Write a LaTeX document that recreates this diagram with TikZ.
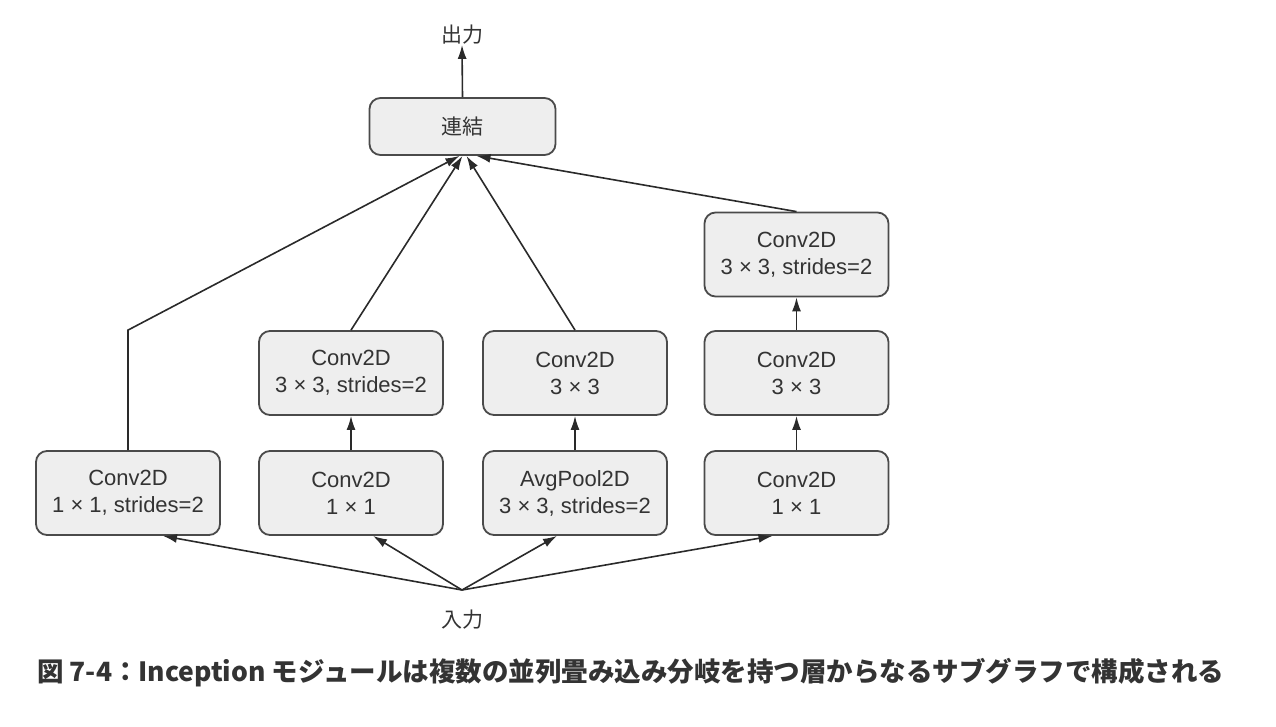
\documentclass[tikz,border=0pt]{standalone}
\usepackage{fontspec}
\setmainfont{Liberation Sans}
\newfontfamily\jp{Noto Sans CJK JP}
\usetikzlibrary{arrows.meta,calc}
\definecolor{boxfill}{HTML}{EEEEEE}
\definecolor{boxline}{HTML}{4A4A4A}
\definecolor{ink}{HTML}{333333}
\definecolor{wire}{HTML}{2A2A2A}
\tikzset{
  layer/.style={draw=boxline, line width=1.8pt, fill=boxfill, rounded corners=11pt,
    minimum width=184pt, minimum height=84pt, align=center, text=ink,
    font=\fontsize{22}{27}\selectfont, inner sep=0pt},
  conn/.style={draw=wire, line width=1.6pt, -{Latex[length=14pt,width=9pt]}},
  lbl/.style={text=ink, font=\jp\fontsize{21}{25}\selectfont, inner sep=0pt}
}
\begin{document}
\begin{tikzpicture}[x=1pt,y=-1pt]
\useasboundingbox (0,0) rectangle (1276,726);
% nodes
\node[layer, minimum width=186pt, minimum height=57pt, font=\jp\fontsize{21}{25}\selectfont] (concat) at (462.5,126.5) {連結};
\node[lbl] (out) at (462,35) {出力};
\node[lbl] (in) at (462,620) {入力};

\node[layer] (A1) at (128,493) {Conv2D\\1 × 1, strides=2};
\node[layer] (B1) at (351,493) {Conv2D\\1 × 1};
\node[layer] (C1) at (575,493) {AvgPool2D\\3 × 3, strides=2};
\node[layer] (D1) at (796.5,493) {Conv2D\\1 × 1};

\node[layer] (B2) at (351,373) {Conv2D\\3 × 3, strides=2};
\node[layer] (C2) at (575,373) {Conv2D\\3 × 3};
\node[layer] (D2) at (796.5,373) {Conv2D\\3 × 3};

\node[layer] (D3) at (796.5,254.5) {Conv2D\\3 × 3, strides=2};

\coordinate (fan) at (462,590);
\coordinate (bend) at (A1.north |- B2.north);

% connectors from input
\draw[conn] (fan) -- ($(A1.south)+(35,0)$);
\draw[conn] (fan) -- ($(B1.south)+(22,0)$);
\draw[conn] (fan) -- ($(C1.south)+(-18,0)$);
\draw[conn] (fan) -- ($(D1.south)+(-24,0)$);

% vertical
\draw[conn] (B1) -- (B2);
\draw[conn] (C1) -- (C2);
\draw[conn] (D1) -- (D2);
\draw[conn] (D2) -- (D3);

% to concat
\draw[conn] (A1.north) -- (bend) -- ($(concat.south)+(-3,0)$);
\draw[conn] (B2.north) -- ($(concat.south)+(0,0)$);
\draw[conn] (C2.north) -- ($(concat.south)+(4,0)$);
\draw[conn] (D3.north) -- ($(concat.south)+(14,0)$);
\draw[conn] (concat.north) -- (out.south);

% caption
\node[anchor=west, inner sep=0pt, text=ink, font=\jp\bfseries\fontsize{26.5}{31}\selectfont] (cap) at (37,673)
  {図 7-4：Inception モジュールは複数の並列畳み込み分岐を持つ層からなるサブグラフで構成される};
\end{tikzpicture}
\end{document}
